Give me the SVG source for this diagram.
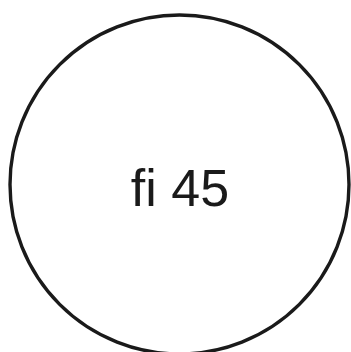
<svg xmlns="http://www.w3.org/2000/svg" width="351" height="352" viewBox="0 0 351 352">
<style>
.node{fill:#fff;stroke:#1a1a1a;stroke-width:3.4}
.lbl{font-family:"Liberation Sans",Arial,sans-serif;font-size:52px;fill:#1a1a1a;text-anchor:middle}
</style>
<rect width="351" height="352" fill="#fff"/>
<g id="connectors"></g>
<g id="node1">
<circle class="node" cx="179.5" cy="184.5" r="169.5"/>
<text class="lbl" x="180" y="206">fi 45</text>
</g>
</svg>
